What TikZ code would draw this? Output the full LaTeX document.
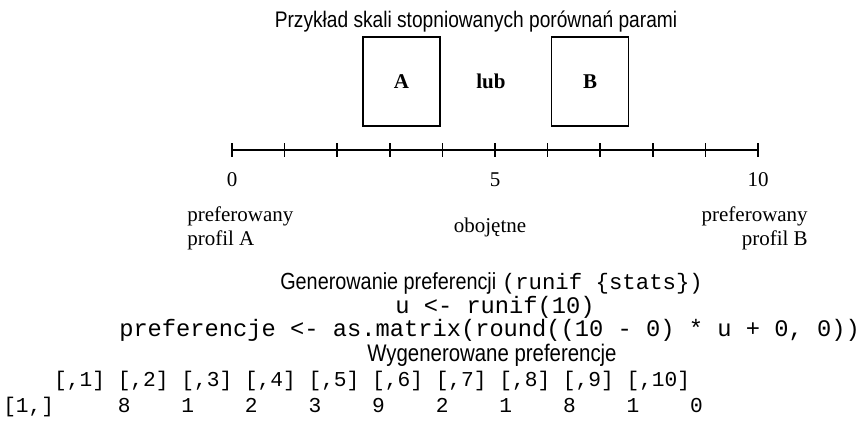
\documentclass[tikz,border=0pt]{standalone}
\usepackage{fontspec}
\usetikzlibrary{calc}
\setmainfont{Liberation Serif}
\newfontfamily\narrowsf[FakeStretch=0.85]{Liberation Sans}
\newfontfamily\codefont{Liberation Mono}
\tikzset{
  serif/.style={font=\fontsize{15.75}{18}\selectfont, inner sep=0pt},
  titletext/.style={font=\narrowsf\fontsize{16.9}{20}\selectfont, inner sep=0pt},
  sanslbl/.style={font=\narrowsf\fontsize{18}{20}\selectfont, inner sep=0pt},
  code/.style={font=\codefont\fontsize{17.8}{20}\selectfont, inner sep=0pt},
  tablecode/.style={font=\codefont\fontsize{15.9}{20}\selectfont, inner sep=0pt},
  profile/.style={draw, line width=1.1pt, minimum width=57.75pt, minimum height=66.75pt,
    font=\fontsize{15.75}{18}\selectfont\bfseries, inner sep=0pt},
  axis/.style={line width=1.3pt},
}
\begin{document}
\begin{tikzpicture}[x=0.75pt,y=-0.75pt]
\useasboundingbox (0,0) rectangle (865,424);
\fill[white] (0,0) rectangle (865,424);
% title
\node[titletext, anchor=base] (title) at (476,28) {Przykład skali stopniowanych porównań parami};
% boxes
\node[profile] (boxA) at (401.5,81.5) {A};
\node[serif, font=\fontsize{15.75}{18}\selectfont\bfseries] (lub) at (491,81.5) {lub};
\node[profile] (boxB) at (590,81.5) {B};
% axis
\coordinate (s0) at (232,150);
\coordinate (s10) at (758,150);
\draw[axis] (s0) -- (s10);
\foreach \i in {0,...,10} {
  \coordinate (t\i) at ($(s0)!\i/10!(s10)$);
  \draw[axis] ([yshift=-5.25pt]t\i) -- ([yshift=5.25pt]t\i);
}
\node[serif, anchor=base] (l0) at (232,187) {0};
\node[serif, anchor=base] (l5) at (495,187) {5};
\node[serif, anchor=base] (l10) at (758,187) {10};
\node[serif, anchor=base west] (pa1) at (187,222) {preferowany};
\node[serif, anchor=base west] (pa2) at (187,246) {profil A};
\node[serif, anchor=base] (obo) at (490,233) {obojętne};
\node[serif, anchor=base east] (pb1) at (808,222) {preferowany};
\node[serif, anchor=base east] (pb2) at (808,246) {profil B};
% code part
\node[anchor=base west, inner sep=0pt] (gen) at (280,290) {{\narrowsf\fontsize{17.5}{20}\selectfont Generowanie preferencji }{\codefont\fontsize{16.75}{20}\selectfont(runif~\{stats\})}};
\node[code, anchor=base] (uline) at (495,314) {u~<-~runif(10)};
\node[code, anchor=base west] (pline) at (119,337) {preferencje~<-~as.matrix(round((10~-~0)~*~u~+~0,~0))};
\node[sanslbl, anchor=base] (wyg) at (492,362) {Wygenerowane preferencje};
\node[tablecode, anchor=base west] (hdr) at (3,387) {~~~~[,1]~[,2]~[,3]~[,4]~[,5]~[,6]~[,7]~[,8]~[,9]~[,10]};
\node[tablecode, anchor=base west] (row) at (3,412) {[1,]~~~~~8~~~~1~~~~2~~~~3~~~~9~~~~2~~~~1~~~~8~~~~1~~~~0};
\end{tikzpicture}
\end{document}
